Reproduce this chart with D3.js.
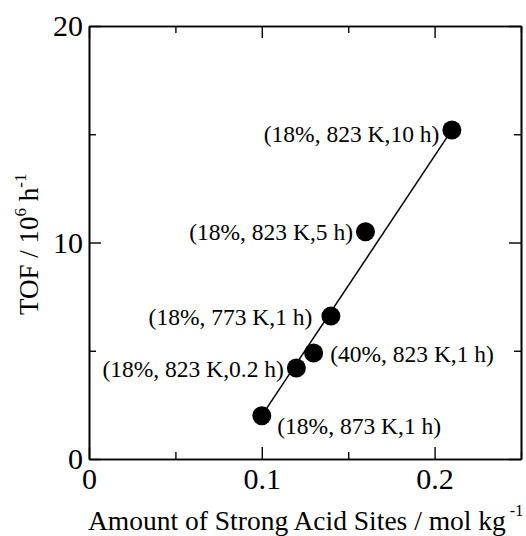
<!DOCTYPE html>
<html>
<head>
<meta charset="utf-8">
<script src="https://cdn.jsdelivr.net/npm/d3@7/dist/d3.min.js"></script>
<style>
  html, body { margin: 0; padding: 0; background: #fff; }
  svg { display: block; }
  text { font-family: "Liberation Serif", "Times New Roman", serif; fill: #000; }
</style>
</head>
<body>
<svg id="chart" width="526" height="536"></svg>
<script>
// Strong acid site amount (mol/kg) vs TOF (10^6 h^-1)
const acidSites = [0.10, 0.12, 0.13, 0.14, 0.16, 0.21];
const tofValues = [2.0, 4.2, 4.9, 6.6, 10.5, 15.2];
const sampleLabels = [
  "(18%, 873 K,1 h)",
  "(18%, 823 K,0.2 h)",
  "(40%, 823 K,1 h)",
  "(18%, 773 K,1 h)",
  "(18%, 823 K,5 h)",
  "(18%, 823 K,10 h)"
];
// straight trend line through the series
const trendX = [0.10, 0.21];
const trendY = [2.0, 15.2];

const xMajorTicks = [0, 0.1, 0.2];
const xMinorTicks = [0.05, 0.15, 0.25];
const yMajorTicks = [0, 10, 20];
const yMinorTicks = [5, 15];

// label placement: side of the marker and vertical nudge
const labelLayout = [
  { side: "right", dx: 6, dy: 10 },
  { side: "left",  dx: 3, dy: 1 },
  { side: "right", dx: 7, dy: 1 },
  { side: "left",  dx: 9, dy: 1 },
  { side: "left",  dx: 3, dy: 0 },
  { side: "left",  dx: 3, dy: 4 }
];

const svg = d3.select("#chart");
const plotLeft = 89, plotRight = 521, plotTop = 26, plotBottom = 459;

const x = d3.scaleLinear().domain([0, 0.25]).range([plotLeft, plotRight]);
const y = d3.scaleLinear().domain([0, 20]).range([plotBottom, plotTop]);

const major = 12, minor = 7;

function styleAxis(g) {
  g.selectAll("path.domain").attr("stroke", "#000").attr("stroke-width", 1.6);
  g.selectAll(".tick line").attr("stroke", "#000").attr("stroke-width", 1.4);
}

// bottom axis with labels
const gB = svg.append("g").attr("transform", `translate(0,${plotBottom})`)
  .call(d3.axisBottom(x).tickValues(xMajorTicks).tickSizeInner(-major).tickSizeOuter(0)
    .tickPadding(9).tickFormat(d => d === 0 ? "0" : d3.format(".1f")(d)));
styleAxis(gB);
gB.selectAll("text").attr("font-size", 30).attr("font-family", "Liberation Serif");
svg.append("g").attr("transform", `translate(0,${plotBottom})`)
  .call(d3.axisBottom(x).tickValues(xMinorTicks).tickSizeInner(-minor).tickSizeOuter(0).tickFormat(""))
  .call(styleAxis);

// top axis
svg.append("g").attr("transform", `translate(0,${plotTop})`)
  .call(d3.axisTop(x).tickValues(xMajorTicks).tickSizeInner(-major).tickSizeOuter(0).tickFormat(""))
  .call(styleAxis);
svg.append("g").attr("transform", `translate(0,${plotTop})`)
  .call(d3.axisTop(x).tickValues(xMinorTicks).tickSizeInner(-minor).tickSizeOuter(0).tickFormat(""))
  .call(styleAxis);

// left axis with labels
const gL = svg.append("g").attr("transform", `translate(${plotLeft},0)`)
  .call(d3.axisLeft(y).tickValues(yMajorTicks).tickSizeInner(-major).tickSizeOuter(0)
    .tickPadding(6).tickFormat(d3.format("d")));
styleAxis(gL);
gL.selectAll("text").attr("font-size", 30).attr("font-family", "Liberation Serif");
svg.append("g").attr("transform", `translate(${plotLeft},0)`)
  .call(d3.axisLeft(y).tickValues(yMinorTicks).tickSizeInner(-minor).tickSizeOuter(0).tickFormat(""))
  .call(styleAxis);

// right axis
svg.append("g").attr("transform", `translate(${plotRight},0)`)
  .call(d3.axisRight(y).tickValues(yMajorTicks).tickSizeInner(-major).tickSizeOuter(0).tickFormat(""))
  .call(styleAxis);
svg.append("g").attr("transform", `translate(${plotRight},0)`)
  .call(d3.axisRight(y).tickValues(yMinorTicks).tickSizeInner(-minor).tickSizeOuter(0).tickFormat(""))
  .call(styleAxis);

// trend line
const line = d3.line().x(d => x(d[0])).y(d => y(d[1]));
svg.append("path")
  .datum(d3.zip(trendX, trendY))
  .attr("d", line)
  .attr("fill", "none")
  .attr("stroke", "#000")
  .attr("stroke-width", 1.5);

// markers
const r = 9.5;
const pts = d3.zip(acidSites, tofValues);
svg.append("g").selectAll("circle").data(pts).join("circle")
  .attr("cx", d => x(d[0]))
  .attr("cy", d => y(d[1]))
  .attr("r", r)
  .attr("fill", "#000");

// point labels
svg.append("g").selectAll("text").data(pts).join("text")
  .attr("x", (d, i) => labelLayout[i].side === "right"
    ? x(d[0]) + r + labelLayout[i].dx
    : x(d[0]) - r - labelLayout[i].dx)
  .attr("y", (d, i) => y(d[1]) + labelLayout[i].dy)
  .attr("dy", "0.35em")
  .attr("text-anchor", (d, i) => labelLayout[i].side === "right" ? "start" : "end")
  .attr("font-size", 23.5)
  .text((d, i) => sampleLabels[i]);

// x axis title
const xt = svg.append("text")
  .attr("x", 88).attr("y", 530)
  .attr("font-size", 27.5);
xt.append("tspan").text("Amount of Strong Acid Sites / mol kg");
xt.append("tspan").attr("dx", 4).attr("dy", -14).attr("font-size", 16).text("-1");

// y axis title
const yt = svg.append("text")
  .attr("transform", "translate(38,315) rotate(-90)")
  .attr("font-size", 27);
yt.append("tspan").text("TOF / 10");
yt.append("tspan").attr("dy", -12).attr("font-size", 17).text("6");
yt.append("tspan").attr("dy", 12).text(" h");
yt.append("tspan").attr("dy", -12).attr("font-size", 17).text("-1");
</script>
</body>
</html>
